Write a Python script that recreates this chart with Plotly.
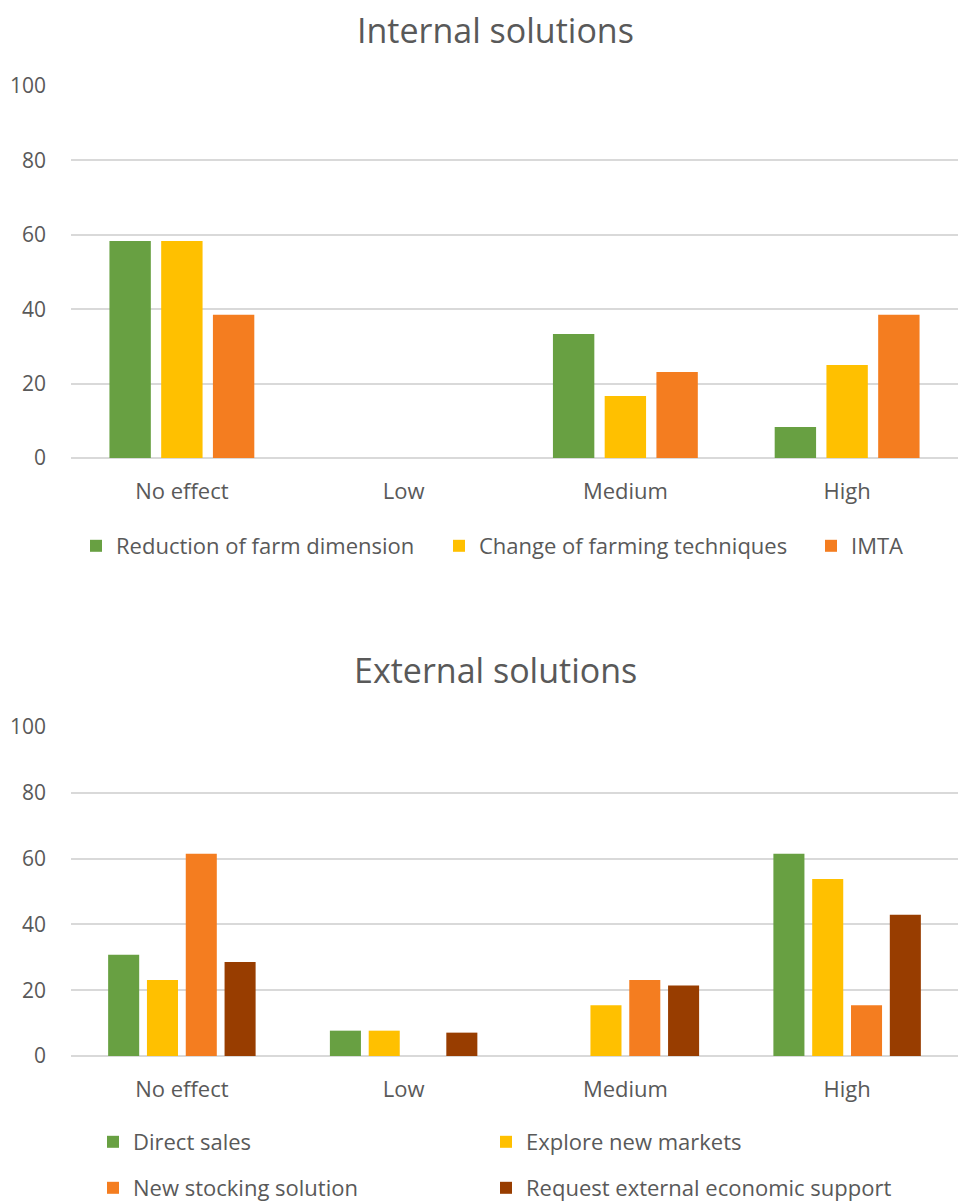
import plotly.graph_objects as go

# Effect levels on the category axis
levels = ["No effect", "Low", "Medium", "High"]

# Internal solutions (% of respondents)
reduction_farm_dimension = [58.3, 0, 33.3, 8.3]
change_farming_techniques = [58.3, 0, 16.7, 25.0]
imta = [38.5, 0, 23.1, 38.5]

# External solutions (% of respondents)
direct_sales = [30.8, 7.7, 0, 61.5]
explore_new_markets = [23.1, 7.7, 15.4, 53.8]
new_stocking_solution = [61.5, 0, 23.1, 15.4]
request_economic_support = [28.6, 7.1, 21.4, 42.9]

y_ticks = [0, 20, 40, 60, 80, 100]

GREEN = "#68A042"
YELLOW = "#FFC000"
ORANGE = "#F47D20"
BROWN = "#983D00"
TEXT = "#595959"
GRID = "#D9D9D9"
FONT = "Open Sans"
H = 1203
W = 958

fig = go.Figure()

# each legend entry gets its own legend box so the entries sit on a fixed grid
internal = [
    ("Reduction of farm dimension", reduction_farm_dimension, GREEN, "legend", 116, 546),
    ("Change of farming techniques", change_farming_techniques, YELLOW, "legend2", 479, 546),
    ("IMTA", imta, ORANGE, "legend3", 851, 546),
]
external = [
    ("Direct sales", direct_sales, GREEN, "legend4", 133, 1142),
    ("Explore new markets", explore_new_markets, YELLOW, "legend5", 526, 1142),
    ("New stocking solution", new_stocking_solution, ORANGE, "legend6", 133, 1188),
    ("Request external economic support", request_economic_support, BROWN, "legend7", 526, 1188),
]

legend_common = dict(
    orientation="h", font=dict(family=FONT, size=22, color=TEXT),
    bgcolor="rgba(0,0,0,0)", yanchor="middle", xanchor="left",
    itemclick=False, itemdoubleclick=False,
)

legends = {}
for group, xa, ya in ((internal, "x", "y"), (external, "x2", "y2")):
    for name, vals, col, lg, tx, ty in group:
        fig.add_trace(go.Bar(
            x=levels, y=vals, name=name, showlegend=True,
            marker=dict(color=col, line=dict(width=0)),
            xaxis=xa, yaxis=ya, legend=lg,
        ))
        legends[lg] = dict(x=(tx - 40) / W, y=1 - ty / H, **legend_common)

axis_font = dict(family=FONT, size=22, color=TEXT)
xcommon = dict(
    type="category", categoryorder="array", categoryarray=levels,
    showgrid=False, showline=False, zeroline=False, ticks="", automargin=False,
    tickfont=axis_font, ticklabelstandoff=18, fixedrange=True,
)
ycommon = dict(
    range=[0, 100], tickvals=y_ticks, showgrid=True, gridcolor=GRID, gridwidth=1.5,
    zeroline=True, zerolinecolor=GRID, zerolinewidth=1.5, showline=False, ticks="",
    automargin=False, tickfont=dict(family=FONT, size=21, color=TEXT),
    ticklabelstandoff=24, fixedrange=True,
)

fig.update_layout(
    width=W, height=H,
    showlegend=True,
    margin=dict(l=0, r=0, t=0, b=0, autoexpand=False),
    paper_bgcolor="white", plot_bgcolor="white",
    barmode="group", bargap=0.3, bargroupgap=0.2,
    font=dict(family=FONT, color=TEXT),
    xaxis=dict(domain=[71 / W, 1.0], anchor="y", **xcommon),
    yaxis=dict(domain=[1 - 458 / H, 1 - 86 / H], anchor="x", **ycommon),
    xaxis2=dict(domain=[71 / W, 1.0], anchor="y2", **xcommon),
    yaxis2=dict(domain=[1 - 1056 / H, 1 - 727 / H], anchor="x2", **ycommon),
    annotations=[
        dict(text="Internal solutions", x=0.517, y=1 - 30 / H, xref="paper", yref="paper",
             showarrow=False, xanchor="center", yanchor="middle",
             font=dict(family=FONT, size=34, color=TEXT)),
        dict(text="External solutions", x=0.517, y=1 - 670 / H, xref="paper", yref="paper",
             showarrow=False, xanchor="center", yanchor="middle",
             font=dict(family=FONT, size=34, color=TEXT)),
    ],
    **legends,
)

fig.write_html("out.html")
